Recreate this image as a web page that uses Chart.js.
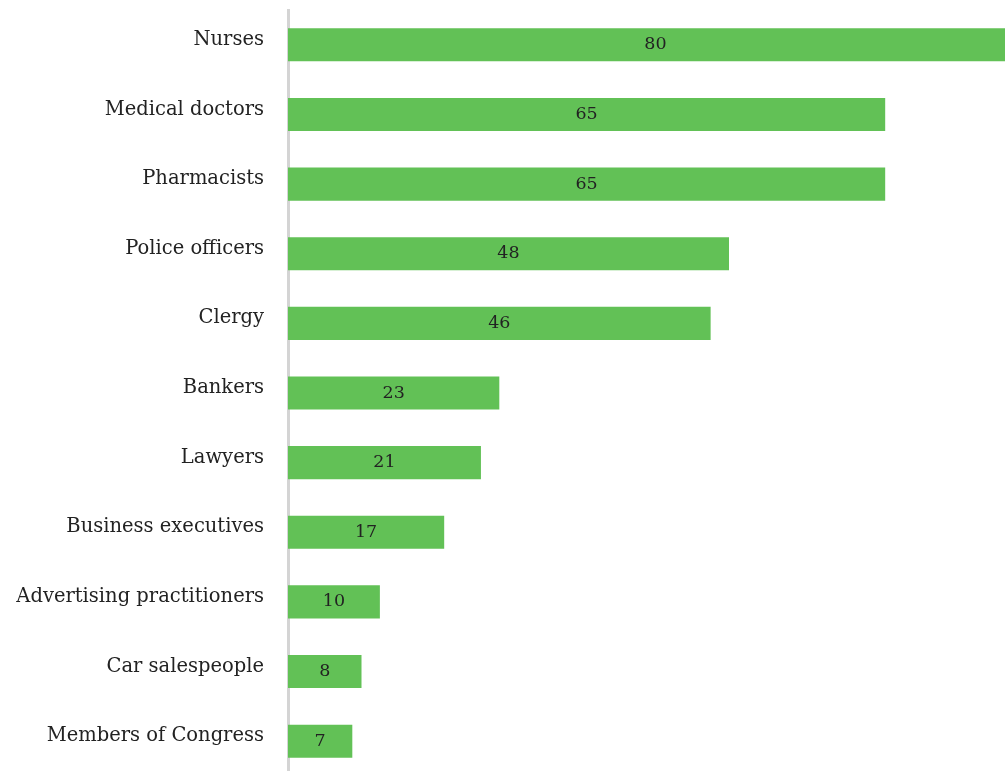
<!DOCTYPE html>
<html><head><meta charset="utf-8">
<script src="https://cdn.jsdelivr.net/npm/chart.js@4"></script>
<style>html,body{margin:0;padding:0;overflow:hidden;background:#fff;width:1005px;height:771px}
#wrap{width:1023px;height:777px;position:relative}</style>
</head><body><div id="wrap"><canvas id="c"></canvas></div>
<script>
const categories = ["Nurses","Medical doctors","Pharmacists","Police officers","Clergy","Bankers","Lawyers","Business executives","Advertising practitioners","Car salespeople","Members of Congress"];
const values = [80,65,65,48,46,23,21,17,10,8,7];
const FONT = "'DejaVu Serif', serif";
const valueLabels = {
  id:'valueLabels',
  afterDatasetsDraw(chart){
    const ctx=chart.ctx, xs=chart.scales.x, meta=chart.getDatasetMeta(0);
    ctx.save();
    ctx.font="17.5px "+FONT; ctx.fillStyle="#222"; ctx.textAlign="center"; ctx.textBaseline="middle";
    meta.data.forEach((bar,i)=>{
      const x=xs.getPixelForValue(values[i]/2);
      ctx.fillText(String(values[i]), x, bar.y);
    });
    ctx.restore();
  }
};
new Chart(document.getElementById('c'),{
  type:'bar',
  data:{labels:categories,datasets:[{data:values,backgroundColor:'#62c156',borderWidth:0,categoryPercentage:1,barPercentage:0.475}]},
  options:{
    indexAxis:'y',responsive:true,maintainAspectRatio:false,animation:false,
    layout:{padding:{top:10,right:0,bottom:1,left:0}},
    plugins:{legend:{display:false},tooltip:{enabled:false}},
    scales:{
      x:{display:false,min:0,max:80},
      y:{grid:{display:false,drawTicks:false},border:{display:true,color:'#d4d4d4',width:3},
         ticks:{font:{family:FONT,size:19.5},color:'#222',padding:24,labelOffset:-5},
         afterFit(s){s.width=288;s.paddingTop=0;s.paddingBottom=0;}}
    }
  },
  plugins:[valueLabels]
});
</script></body></html>
